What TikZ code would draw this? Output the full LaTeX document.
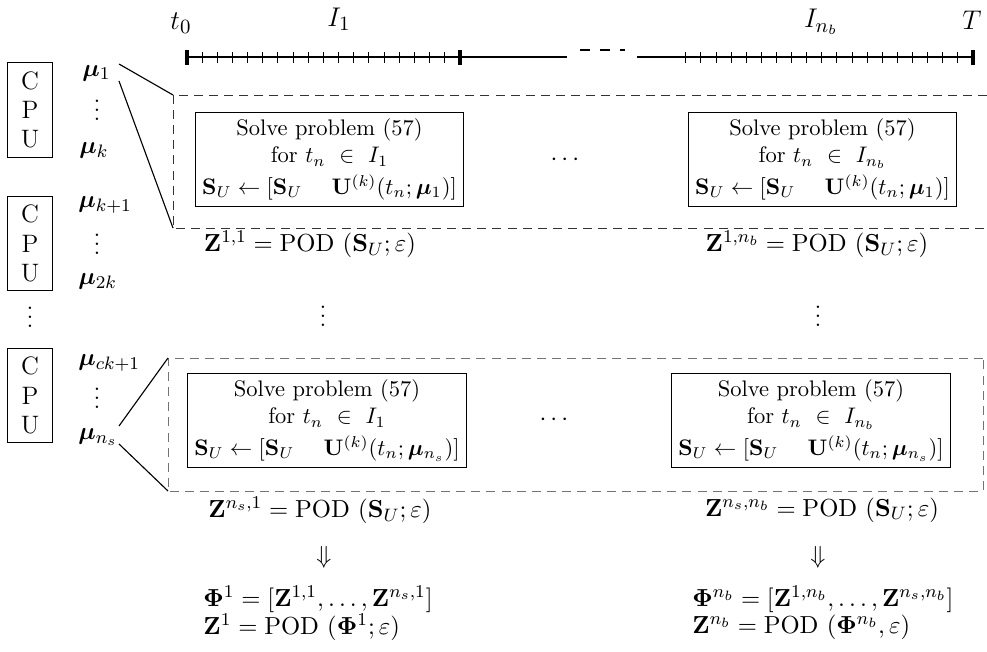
\documentclass[tikz,border=0pt]{standalone}
\usepackage{amsmath}
\usepackage{bm}
\begin{document}
\begin{tikzpicture}[x=0.4444pt,y=-0.4444pt,
  lbl/.style={inner sep=0pt,font=\fontsize{11.2}{13.5}\selectfont},
  vd/.style={inner sep=0pt,font=\fontsize{11.2}{13.5}\selectfont,text height=10.2pt,text depth=0pt},
  tlbl/.style={inner sep=0pt,font=\fontsize{12.5}{15}\selectfont},
  cpubox/.style={draw,align=center,minimum width=19.6pt,minimum height=42pt,inner sep=0pt,font=\fontsize{11.2}{13}\selectfont},
  solvebox/.style={draw,align=center,inner xsep=3pt,inner ysep=3pt,minimum height=42pt},
  smalltick/.style={line width=0.4pt},
  bigtick/.style={line width=1.6pt},
  topdash/.style={draw=black!80,dash pattern=on 4pt off 2.7pt},
  botdash/.style={draw=black!55,dash pattern=on 4pt off 2.7pt},
  conn/.style={line width=0.5pt}]
\useasboundingbox (0,0) rectangle (987,652);
\newcommand{\sgap}{\hspace{1.3em}}

% ---------- time line ----------
\coordinate (tl0) at (187,57);
\coordinate (tl1) at (567,57);
\coordinate (tr0) at (637,57);
\coordinate (tr1) at (973,57);
\draw[line width=0.5pt] (tl0) -- (tl1);
\draw[line width=0.5pt] (tr0) -- (tr1);
\foreach \i in {1,...,17}{\draw[smalltick] (187+15.15*\i,52) -- (187+15.15*\i,63);}
\foreach \i in {1,...,19}{\draw[smalltick] (973-15.12*\i,52) -- (973-15.12*\i,63);}
\draw[bigtick] (187,50) -- (187,65);
\draw[bigtick] (460,50) -- (460,65);
\draw[bigtick] (973,50) -- (973,65);
\coordinate (gap0) at (580,50);
\coordinate (gap1) at (625,50);
\draw[line width=0.5pt,dash pattern=on 4.5pt off 4.3pt] (gap0) -- (gap1);
\node[tlbl] (t0) at (181,23) {$t_0$};
\node[tlbl] (I1) at (339,19) {$I_1$};
\node[tlbl] (Inb) at (821,22) {$I_{n_b}$};
\node[tlbl] (T) at (972,20) {$T$};

% ---------- CPU boxes ----------
\node[cpubox] (cpu1) at (30,110) {C\\P\\U};
\node[cpubox] (cpu2) at (30,243.5) {C\\P\\U};
\node[cpubox] (cpu3) at (30,395.5) {C\\P\\U};
\node[vd] (cpudots) at (30,316) {$\vdots$};

% ---------- parameters ----------
\node[lbl,anchor=west] (mu1) at (82,73) {$\bm{\mu}_1$};
\node[vd] (mud1) at (97,109) {$\vdots$};
\node[lbl,anchor=west] (muk) at (79,150) {$\bm{\mu}_k$};
\node[lbl,anchor=west] (muk1) at (78,205) {$\bm{\mu}_{k+1}$};
\node[vd] (mud2) at (97,243) {$\vdots$};
\node[lbl,anchor=west] (mu2k) at (78,281) {$\bm{\mu}_{2k}$};
\node[lbl,anchor=west] (muck) at (78,363) {$\bm{\mu}_{ck+1}$};
\node[vd] (mud3) at (97,397) {$\vdots$};
\node[lbl,anchor=west] (muns) at (78,437) {$\bm{\mu}_{n_s}$};

% ---------- top dashed block ----------
\coordinate (A1) at (987,95);
\coordinate (A2) at (173,95);
\coordinate (A3) at (173,228);
\coordinate (A4) at (987,228);
\draw[topdash] (A1) -- (A2) -- (A3) -- (A4);
\coordinate (m1a) at (119,64);
\coordinate (m1b) at (119,81);
\draw[conn] (m1a) -- (A2);
\draw[conn] (m1b) -- (A3);

\node[solvebox] (s11) at (329.5,159.5) {Solve problem (57)\\ for $t_n\ \in\ I_1$\\[2pt]
 $\mathbf{S}_U \leftarrow [\mathbf{S}_U \sgap \mathbf{U}^{(k)}(t_n;\bm{\mu}_1)]$};
\node[lbl] (dots1) at (567,160) {$\cdots$};
\node[solvebox] (s1n) at (822.5,159.5) {Solve problem (57)\\ for $t_n\ \in\ I_{n_b}$\\[2pt]
 $\mathbf{S}_U \leftarrow [\mathbf{S}_U \sgap \mathbf{U}^{(k)}(t_n;\bm{\mu}_1)]$};

\node[lbl] (z11) at (310,244) {$\mathbf{Z}^{1,1} = \mathrm{POD}\ (\mathbf{S}_U;\varepsilon)$};
\node[lbl] (z1n) at (817,244) {$\mathbf{Z}^{1,n_b} = \mathrm{POD}\ (\mathbf{S}_U;\varepsilon)$};
\node[vd] (vd1) at (323,315) {$\vdots$};
\node[vd] (vd2) at (818,315) {$\vdots$};

% ---------- bottom dashed block ----------
\coordinate (B1) at (983,358);
\coordinate (B2) at (168,358);
\coordinate (B3) at (168,491);
\coordinate (B4) at (983,491);
\draw[botdash] (B1) -- (B2) -- (B3) -- (B4) -- cycle;
\coordinate (mna) at (119,426);
\coordinate (mnb) at (119,444);
\draw[conn] (mna) -- (B2);
\draw[conn] (mnb) -- (B3);

\node[solvebox] (sn1) at (327,420.5) {Solve problem (57)\\ for $t_n\ \in\ I_1$\\[2pt]
 $\mathbf{S}_U \leftarrow [\mathbf{S}_U \sgap \mathbf{U}^{(k)}(t_n;\bm{\mu}_{n_s})]$};
\node[lbl] (dots2) at (556,420) {$\cdots$};
\node[solvebox] (snn) at (811,420.5) {Solve problem (57)\\ for $t_n\ \in\ I_{n_b}$\\[2pt]
 $\mathbf{S}_U \leftarrow [\mathbf{S}_U \sgap \mathbf{U}^{(k)}(t_n;\bm{\mu}_{n_s})]$};

\node[lbl] (zn1) at (320,510) {$\mathbf{Z}^{n_s,1} = \mathrm{POD}\ (\mathbf{S}_U;\varepsilon)$};
\node[lbl] (znn) at (822,510) {$\mathbf{Z}^{n_s,n_b} = \mathrm{POD}\ (\mathbf{S}_U;\varepsilon)$};
\node[lbl] (arr1) at (324,557) {$\Downarrow$};
\node[lbl] (arr2) at (818,557) {$\Downarrow$};

\node[lbl,anchor=west] (phi1) at (203,599) {$\bm{\Phi}^1 = [\mathbf{Z}^{1,1},\dots,\mathbf{Z}^{n_s,1}]$};
\node[lbl,anchor=west] (zz1) at (203,627) {$\mathbf{Z}^1 = \mathrm{POD}\ (\bm{\Phi}^1;\varepsilon)$};
\node[lbl,anchor=west] (phin) at (692,599) {$\bm{\Phi}^{n_b} = [\mathbf{Z}^{1,n_b},\dots,\mathbf{Z}^{n_s,n_b}]$};
\node[lbl,anchor=west] (zzn) at (692,627) {$\mathbf{Z}^{n_b} = \mathrm{POD}\ (\bm{\Phi}^{n_b},\varepsilon)$};
\end{tikzpicture}
\end{document}
